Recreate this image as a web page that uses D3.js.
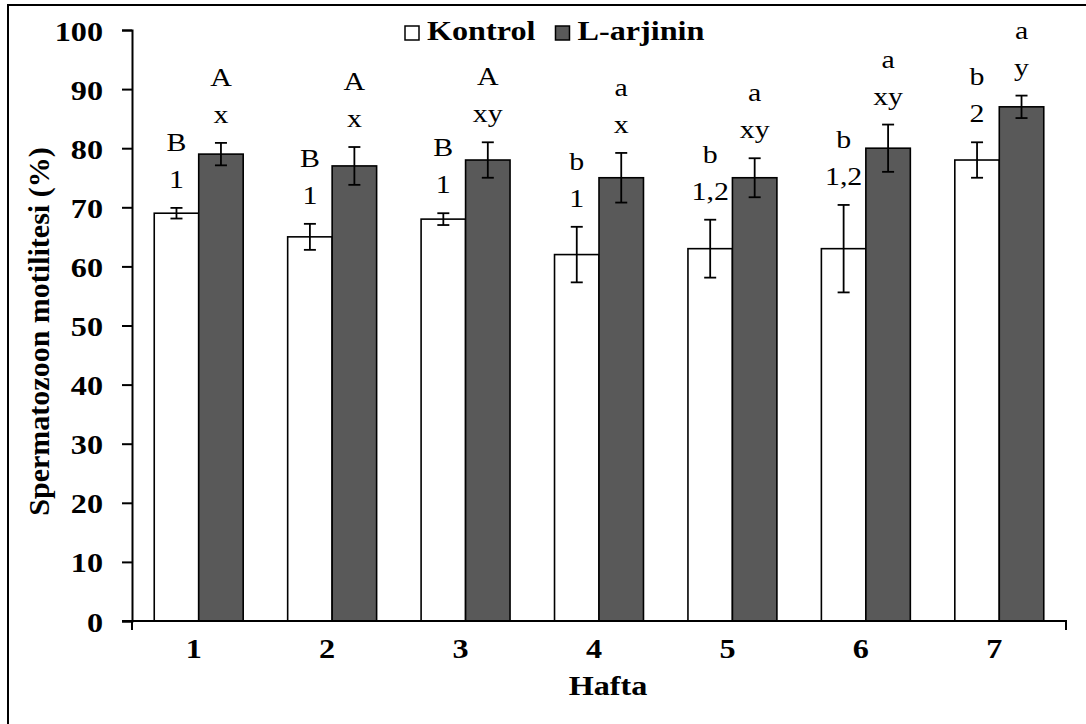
<!DOCTYPE html>
<html>
<head>
<meta charset="utf-8">
<script src="https://cdn.jsdelivr.net/npm/d3@7"></script>
<style>
  html, body { margin: 0; padding: 0; background: #fff; }
  svg { display: block; }
</style>
</head>
<body>
<svg id="chart" width="1086" height="724"></svg>
<script>
// Weekly sperm motility (%) for control and L-arginine groups
const weeks = ["1", "2", "3", "4", "5", "6", "7"];
const kontrol = [69, 65, 68, 62, 63, 63, 78];
const kontrolErr = [0.9, 2.2, 1.0, 4.7, 4.9, 7.4, 3.0];
const larjinin = [79, 77, 78, 75, 75, 80, 87];
const larjininErr = [1.9, 3.2, 3.0, 4.2, 3.3, 4.0, 1.9];
// Significance letters shown above each bar (two lines)
const kontrolTop = ["B", "B", "B", "b", "b", "b", "b"];
const kontrolBottom = ["1", "1", "1", "1", "1,2", "1,2", "2"];
const larjininTop = ["A", "A", "A", "a", "a", "a", "a"];
const larjininBottom = ["x", "x", "xy", "x", "xy", "xy", "y"];
const yTicks = [0, 10, 20, 30, 40, 50, 60, 70, 80, 90, 100];
const seriesNames = ["Kontrol", "L-arjinin"];

const FONT = '"Liberation Serif"';
const SX = 1.15; // horizontal widening of the serif glyphs

const svg = d3.select("#chart");
const plot = { left: 132, right: 1066, top: 30, bottom: 621 };

// Places a horizontally widened text element at (x, y)
function label(parent, x, y, str, size, weight, anchor) {
  return parent.append("text")
    .attr("transform", `translate(${x},${y}) scale(${SX},1)`)
    .attr("text-anchor", anchor || "middle")
    .attr("font-family", FONT)
    .attr("font-size", size)
    .attr("font-weight", weight || "normal")
    .attr("fill", "#000")
    .text(str);
}

// Outer frame
svg.append("rect")
  .attr("x", 8).attr("y", 5)
  .attr("width", 1100).attr("height", 740)
  .attr("fill", "none").attr("stroke", "#000").attr("stroke-width", 2);

const x = d3.scaleBand().domain(weeks).range([plot.left, plot.right]).padding(0);
const bw = x.bandwidth();
const xs = d3.scaleBand().domain(seriesNames).range([bw / 6, bw * 5 / 6]).padding(0);
const y = d3.scaleLinear().domain([0, 100]).range([plot.bottom, plot.top]);

const fills = { "Kontrol": "#ffffff", "L-arjinin": "#595959" };

const rows = weeks.flatMap((w, i) => [
  { week: w, s: "Kontrol", v: kontrol[i], e: kontrolErr[i], t1: kontrolTop[i], t2: kontrolBottom[i] },
  { week: w, s: "L-arjinin", v: larjinin[i], e: larjininErr[i], t1: larjininTop[i], t2: larjininBottom[i] }
]);

// Bars
svg.append("g").selectAll("rect").data(rows).join("rect")
  .attr("x", d => x(d.week) + xs(d.s))
  .attr("y", d => y(d.v))
  .attr("width", xs.bandwidth())
  .attr("height", d => y(0) - y(d.v))
  .attr("fill", d => fills[d.s])
  .attr("stroke", "#000").attr("stroke-width", 1.6);

// Error bars
const eg = svg.append("g").attr("stroke", "#000").attr("stroke-width", 1.8);
rows.forEach(d => {
  const cx = x(d.week) + xs(d.s) + xs.bandwidth() / 2;
  const capW = 6;
  eg.append("line").attr("x1", cx).attr("x2", cx).attr("y1", y(d.v + d.e)).attr("y2", y(d.v - d.e));
  eg.append("line").attr("x1", cx - capW).attr("x2", cx + capW).attr("y1", y(d.v + d.e)).attr("y2", y(d.v + d.e));
  eg.append("line").attr("x1", cx - capW).attr("x2", cx + capW).attr("y1", y(d.v - d.e)).attr("y2", y(d.v - d.e));
});

// Significance labels
const lg = svg.append("g");
rows.forEach(d => {
  const cx = x(d.week) + xs(d.s) + xs.bandwidth() / 2;
  const base = y(d.v + d.e) - 20;
  label(lg, cx, base, d.t2, 26);
  label(lg, cx, base - 37, d.t1, 26);
});

// Y axis
const yAxis = d3.axisLeft(y).tickValues(yTicks).tickSize(10).tickPadding(19);
const yg = svg.append("g").attr("transform", `translate(${plot.left},0)`).call(yAxis);
yg.attr("font-family", FONT);
yg.select(".domain").attr("stroke-width", 2);
yg.selectAll(".tick line").attr("stroke-width", 2);
yg.selectAll(".tick text")
  .attr("x", null).attr("dy", null)
  .attr("transform", `translate(-29,10) scale(${SX},1)`)
  .attr("font-family", FONT)
  .attr("font-size", 28).attr("font-weight", "bold").attr("fill", "#000");

// X axis line with end ticks
const xg = svg.append("g").attr("stroke", "#000").attr("stroke-width", 2).attr("fill", "none");
xg.append("path").attr("d", `M${plot.left - 10},${plot.bottom}H${plot.right}V${plot.bottom + 9}`);
xg.append("line").attr("x1", plot.left).attr("x2", plot.left).attr("y1", plot.bottom).attr("y2", plot.bottom + 9);

// X tick labels
const xl = svg.append("g");
weeks.forEach(w => label(xl, x(w) + bw / 2 - 5, 658, w, 28, "bold"));

// Axis titles
label(svg, 608, 695, "Hafta", 28, "bold");

svg.append("text")
  .attr("transform", `translate(49,${(plot.top + plot.bottom) / 2 + 6}) rotate(-90)`)
  .attr("text-anchor", "middle")
  .attr("font-family", FONT)
  .attr("font-size", 30).attr("font-weight", "bold").attr("fill", "#000")
  .text("Spermatozoon motilitesi (%)");

// Legend
const legend = svg.append("g").attr("transform", "translate(405,24)");
let lx = 0;
seriesNames.forEach(name => {
  const item = legend.append("g").attr("transform", `translate(${lx},0)`);
  item.append("rect").attr("x", 0).attr("y", 2).attr("width", 14).attr("height", 14)
    .attr("fill", fills[name]).attr("stroke", "#000").attr("stroke-width", 1.5);
  const t = label(item, 22, 16, name, 28, "bold", "start");
  lx += 22 + t.node().getComputedTextLength() * SX + 20;
});
</script>
</body>
</html>
